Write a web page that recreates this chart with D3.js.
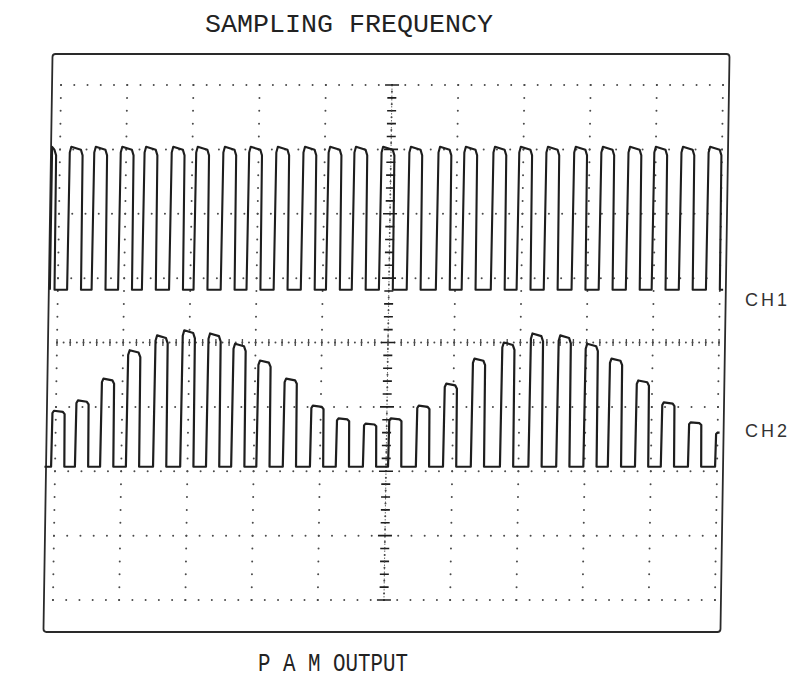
<!DOCTYPE html>
<html>
<head>
<meta charset="utf-8">
<script src="https://cdn.jsdelivr.net/npm/d3@7"></script>
<style>
  html, body { margin: 0; padding: 0; background: #fff; }
  svg { display: block; }
</style>
</head>
<body>
<script>
// ---------------- DATA (oscilloscope divisions) ----------------
// horizontal divisions 0..10, vertical divisions -4..4 (centre 0)
const titleTop = "SAMPLING FREQUENCY";
const titleBottom = "P A M OUTPUT";
const channelLabels = ["CH1", "CH2"];

// CH1 : sampling pulse train (rising-edge times, in divisions)
const ch1Rises = [-0.26, 0.14, 0.51, 0.91, 1.27, 1.68, 2.05, 2.46, 2.85, 3.26, 3.67, 4.05, 4.44,
                  4.85, 5.27, 5.71, 6.10, 6.54, 6.93, 7.34, 7.76, 8.17, 8.58, 8.97, 9.38, 9.79];
const ch1Width = 0.21;
const ch1High = 3.04;
const ch1Low = 0.82;
const ch1Span = [-0.12, 10.05];

// CH2 : PAM output (rising-edge times and pulse-top levels, in divisions)
const ch2Rises = [-0.06, 0.30, 0.68, 1.07, 1.48, 1.89, 2.28, 2.66, 3.04, 3.44, 3.85, 4.24, 4.65,
                  5.03, 5.45, 5.86, 6.28, 6.72, 7.15, 7.57, 7.98, 8.35, 8.76, 9.15, 9.56, 9.97];
const ch2Tops = [-1.06, -0.90, -0.56, -0.12, 0.11, 0.19, 0.14, -0.02, -0.28, -0.56, -0.98, -1.18, -1.26,
                 -1.18, -0.98, -0.64, -0.25, 0.00, 0.14, 0.11, -0.02, -0.25, -0.59, -0.93, -1.24, -1.40];
const ch2Width = 0.2;
const ch2Low = -1.93;
const ch2Span = [-0.16, 10.03];

// ---------------- LAYOUT ----------------
const W = 793, H = 693;
const svg = d3.select("body").append("svg").attr("width", W).attr("height", H);

const x = d3.scaleLinear().domain([0, 10]).range([57, 719]);
const y = d3.scaleLinear().domain([-4, 4]).range([600, 85]);
const cx = x(5), cy = y(0);

const ink = "#1e1e1e";
const gridInk = "#4a4a4a";

// whole scope screen slightly skewed, as in the photograph
const g = svg.append("g")
  .attr("transform", `translate(${cx},${cy}) skewX(-0.9) translate(${-cx},${-cy})`);

// frame
g.append("rect")
  .attr("x", 48).attr("y", 54)
  .attr("width", 677).attr("height", 578)
  .attr("rx", 3)
  .attr("fill", "none").attr("stroke", "#2a2a2a").attr("stroke-width", 1.8);

// dotted graticule
const dots = [];
for (let i = 0; i <= 10; i++) {
  if (i === 5) continue;
  for (let j = 0; j <= 40; j++) dots.push([i, -4 + j * 0.2]);
}
for (let k = -4; k <= 4; k++) {
  if (k === 0) continue;
  for (let j = 0; j <= 50; j++) dots.push([j * 0.2, k]);
}
// centre axes: fine dots at 0.1 div
for (let j = 0; j <= 80; j++) dots.push([5, -4 + j * 0.1]);
for (let j = 0; j <= 100; j++) dots.push([j * 0.1, 0]);

g.append("g").selectAll("circle").data(dots).join("circle")
  .attr("cx", d => x(d[0])).attr("cy", d => y(d[1]))
  .attr("r", 1.0).attr("fill", gridInk);

// centre axis tick marks (every 0.2 div)
const vTicks = d3.range(0, 41).map(j => -4 + j * 0.2);
g.append("g").selectAll("line").data(vTicks).join("line")
  .attr("x1", d => cx - (Math.abs(d - Math.round(d)) < 1e-6 ? 7 : 4.5))
  .attr("x2", d => cx + (Math.abs(d - Math.round(d)) < 1e-6 ? 7 : 4.5))
  .attr("y1", d => y(d)).attr("y2", d => y(d))
  .attr("stroke", ink).attr("stroke-width", 1.6);
g.append("line").attr("x1", cx).attr("x2", cx).attr("y1", y(4)).attr("y2", y(-4))
  .attr("stroke", gridInk).attr("stroke-width", 0.8).attr("stroke-dasharray", "1.5,2");

const hTicks = d3.range(0, 51).map(j => j * 0.2);
g.append("g").selectAll("line").data(hTicks).join("line")
  .attr("x1", d => x(d)).attr("x2", d => x(d))
  .attr("y1", cy - 3.5).attr("y2", cy + 3.5)
  .attr("stroke", gridInk).attr("stroke-width", 1.3);

// ---------------- TRACES ----------------
function pulseTrain(rises, width, tops, low, span) {
  const pts = [[span[0], low]];
  rises.forEach((r, i) => {
    const top = Array.isArray(tops) ? tops[i] : tops;
    const f = r + width;
    const a = Math.max(r, span[0]);
    const b = Math.min(f, span[1]);
    if (b <= span[0] || a >= span[1]) return;
    const amp = top - low;
    if (r >= span[0]) {
      pts.push([r, low]);
      pts.push([r + 0.008, top - amp * 0.04]);
      pts.push([r + 0.03, top]);
    } else {
      pts.push([span[0], top]);
    }
    if (f <= span[1]) {
      pts.push([f - 0.035, top - amp * 0.02]);
      pts.push([f - 0.008, top - amp * 0.06]);
      pts.push([f, low]);
    } else {
      pts.push([span[1], top]);
    }
  });
  const last = pts[pts.length - 1];
  if (last[0] < span[1]) pts.push([span[1], low]);
  return pts;
}

const line = d3.line().x(d => x(d[0])).y(d => y(d[1]));

g.append("path")
  .datum(pulseTrain(ch1Rises, ch1Width, ch1High, ch1Low, ch1Span))
  .attr("d", line)
  .attr("fill", "none").attr("stroke", ink).attr("stroke-width", 2.1)
  .attr("stroke-linejoin", "round");

g.append("path")
  .datum(pulseTrain(ch2Rises, ch2Width, ch2Tops, ch2Low, ch2Span))
  .attr("d", line)
  .attr("fill", "none").attr("stroke", ink).attr("stroke-width", 2.2)
  .attr("stroke-linejoin", "round");

// ---------------- TEXT ----------------
svg.append("text")
  .attr("x", 349).attr("y", 32)
  .attr("text-anchor", "middle")
  .attr("textLength", 288).attr("lengthAdjust", "spacingAndGlyphs")
  .style("font-family", "'Liberation Mono', 'DejaVu Sans Mono', monospace")
  .style("font-size", "25px")
  .attr("fill", "#222")
  .text(titleTop);

svg.append("text")
  .attr("x", 333).attr("y", 671)
  .attr("text-anchor", "middle")
  .attr("textLength", 150).attr("lengthAdjust", "spacingAndGlyphs")
  .style("font-family", "'Liberation Mono', 'DejaVu Sans Mono', monospace")
  .style("font-size", "25px")
  .attr("fill", "#222")
  .text(titleBottom);

svg.append("g").selectAll("text").data(channelLabels).join("text")
  .attr("x", 745)
  .attr("y", (d, i) => i === 0 ? 306 : 437)
  .style("font-family", "'Liberation Sans', Arial, sans-serif")
  .style("font-size", "18px")
  .style("letter-spacing", "3px")
  .attr("fill", "#333")
  .text(d => d);
</script>
</body>
</html>
